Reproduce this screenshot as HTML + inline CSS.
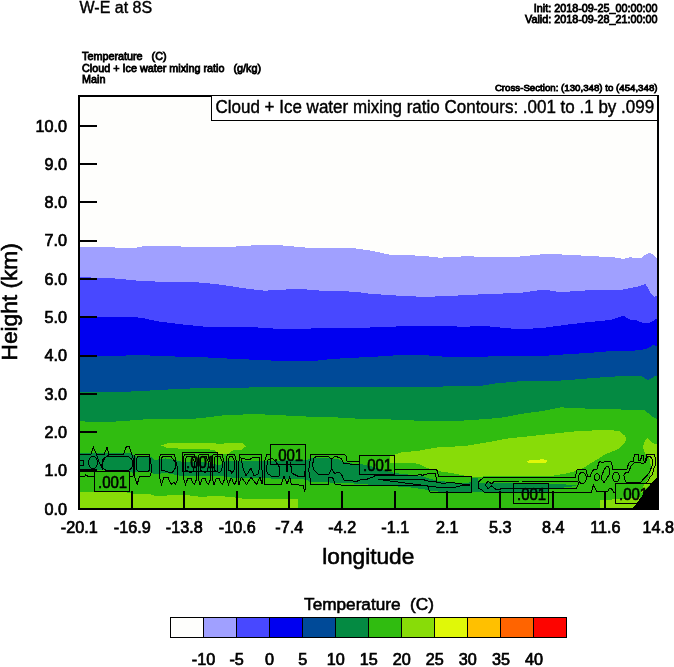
<!DOCTYPE html>
<html lang="en">
<head>
<meta charset="utf-8">
<title>W-E at 8S</title>
<style>
html,body{margin:0;padding:0;background:#fff;}
body{width:674px;height:667px;overflow:hidden;}
svg{display:block;}
text{font-family:"Liberation Sans",sans-serif;fill:#000;}
.sm{font-size:10.8px;stroke:#000;stroke-width:0.8px;}
.tk{font-size:16.2px;stroke:#000;stroke-width:0.7px;}
.ax{font-size:22.7px;stroke:#000;stroke-width:0.6px;}
.lb{font-size:17.2px;stroke:#000;stroke-width:0.6px;}
</style>
</head>
<body>
<svg width="674" height="667" viewBox="0 0 674 667">
<rect width="674" height="667" fill="#fff"/>
<defs><clipPath id="pc"><rect x="78" y="95" width="581" height="415"/></clipPath></defs>
<g clip-path="url(#pc)" shape-rendering="crispEdges">
<rect x="78" y="95" width="581" height="415" fill="#fefefc"/>
<polygon fill="#a0a0ff" points="78,247.1 108,247.3 130.7,248 137,247.6 144,246.2 169,245.7 182,246.6 220,247.1 244.7,246.2 256,245 278.5,245.1 305.5,247.5 337,247.5 355,248.4 370,250.5 392.5,255.2 421.7,255.6 439.7,257.7 464.4,256.3 496,257 520,256.5 547,253.8 558,254.3 583,255.6 614.4,257.4 623.4,258.8 630,257.4 641.4,257.9 645,255 649.3,253 653,254 655,256.5 658,259 658,511 78,511"/>
<polygon fill="#4848ff" points="78,277.2 108,277.9 137.5,280.6 164.4,282 187,281.5 205,283 220,284.6 249,289 265,290.7 287.5,289.4 305.5,289.4 328,291.2 355,291.6 370,293.8 399,295.7 421.7,296.8 444,296.3 471,294.8 500.4,293.6 520,293 538,290.3 549,290.3 558,291.8 574,291.4 587.5,290.3 619,290.3 637,286.7 645.5,284 648,288 650.4,293 653.8,296.8 658,295.2 658,511 78,511"/>
<polygon fill="#0000f0" points="78,317.7 108,317.2 133,316.8 144,318.4 160,321.7 182.4,324.4 205,326.7 220,327.1 256,327.4 287.5,329.4 305.5,329.4 314.4,328 370,327.5 415,325.8 453,326.2 460,326.7 487,326.2 505,328 520,329.2 542.5,328 565,324.9 587.5,322.2 610,320 623.4,315.9 630,319.5 637,320.4 643.7,323.5 649.3,323 658,318 658,511 78,511"/>
<polygon fill="#004a98" points="78,355 115,356 137.5,355 171,356.4 205,357.3 220,358.2 253.7,359.7 287.5,361.3 314.4,360.9 332.4,358.9 355,357.7 370,357 392.5,355.5 426,355.3 446.5,356.8 482.4,356.6 520,356 542.5,356 565,354.4 587.5,353 619,350.5 628,351.4 646,349.2 653.8,344.7 658,347 658,511 78,511"/>
<polygon fill="#048a42" points="78,392.4 121.7,392.4 137.5,390.9 160,390.2 178,388.6 205,388.4 220,388 249,387.5 276,386.6 310,387 332.4,386.8 370,387 392.5,386.6 426,387 460,386 482.4,385.7 496,383.4 520,381.2 547,381.2 565,380.3 587.5,378.5 610,376.7 632.4,375.8 641.4,375.8 648.2,380.3 655,376.2 658,375 658,511 78,511"/>
<polygon fill="#30bc10" points="78,421.2 103.7,422.3 126,420.8 144,419.4 171,419 196,418.5 209.4,417.2 220,415.6 253.7,414 276,415 310,416.7 332.4,417.2 355,418.5 370,419.2 397,419.6 426.2,421.2 460,420.8 487,419 505,417.2 520,414 542.5,411 560.5,407.3 576,408.2 598.7,409 621,409.5 643.7,409.5 652.7,416.7 658,419.4 658,511 78,511"/>
<polygon fill="#048a42" points="78,453 100,453 111,453.4 125,452.6 130,453 134,455.3 136,456.6 151,456.6 154.7,460.2 160,459 165.5,458.4 172,459.5 179,461 185,462.5 202,462 212,464 220,465 225,461 235,460.7 285,460.5 306,460.2 310,458.5 325,458 338.5,459.3 343,461.6 350,463.4 359,463.8 370,466 385,471 396.7,473.3 408.4,474.6 421,476 430,478.7 437.2,480.5 444,481.4 462,483.2 471,482.3 471.7,477.5 478,477.5 478,482.8 495,482.8 548.5,483.7 576,485 576,486 562,487.8 548.5,487.8 548.5,491.8 495,491.8 475.5,492 471,491.7 445,491.7 430,491.3 425.5,489.5 414.7,488 404.8,486.8 385,485.9 368.2,484.5 349.3,483.2 334,483.2 325,481.8 310,482 306,479.6 285,478.7 235,478 220,476 202,476 185,476 179,475.5 165.5,472.8 154.7,474.6 151,471.5 136,471.5 134,473.3 125,469.7 123,469.8 99,470.4 78,469.5"/>
<polygon fill="#88dc08" points="78,492 100,492 125,492.2 136,494 150,494 155,495.8 165,495.8 170,494.9 185,494.9 200,496.8 220,496 235,497.5 245,499 298,499 298,511 78,511"/>
<polygon fill="#88dc08" points="161,445.5 166,443.6 175,442.7 183,443 190,442.5 200,443.5 210,442.7 220,444 228,443 242,443 246,446.4 241,450 234,450 230.4,451.7 228.6,453.5 218,453.5 214,450 205,449 190,449.2 183,449.5 175,448 166,447.5"/>
<polygon fill="#88dc08" points="390,463 390,456 394.4,455.5 395,454.4 403,452 416.5,451.2 428,449 439,447.2 445,446.8 462,446.3 471,445 484.5,442.7 495,441 505,438.8 520,437.2 533.5,435.8 553.7,433.6 576,431.3 598.7,430.2 613,430.4 620.2,431.6 625.4,436.3 626.5,439.4 624.4,443.6 620.2,447.8 613.9,451 605.5,454 599.2,458.3 590.4,463.5 583.2,468 576,471.1 567,473.4 560.7,474.3 553.5,475.6 540,476 495,476.4 484.5,476.4 474.6,477.3 466.5,476 457.5,474.2 445.8,472 440.8,471.5 435.4,469.7 426.4,467.9 421,464.7 414.7,463.2 394,463"/>
<polygon fill="#e0f808" points="526.8,461.5 530,460 540,459.5 543,459 546.7,460.5 547,462 545,463 529,463"/>
<polygon fill="#88dc08" points="647,437.9 644.3,442.6 643,446.8 643.8,451 645.4,454 648,456 650,460 651,468 650,476 646,482 643,487 641,493 646,489 658,476 658,444.7 653.8,443.6 649.6,440.5"/>
<polygon fill="#88dc08" points="600,511 600,499.7 612,499.5 630,498.5 640,497 640,511"/>
<polygon fill="#000" points="631,511 631.8,509 636,504 641.2,497.2 644.3,490.9 650.6,484.6 654.8,479.3 658,476.2 658,511"/>
</g>
<g clip-path="url(#pc)" fill="none" stroke="#000" stroke-width="1" shape-rendering="crispEdges">
<path d="M79,454.5 L90.7,454.5 L93.4,447.2 L96.6,454.5 L104.2,454.5 L107,447.3 L109.2,454.5 L123.6,454.5 L126.3,446.7 L129.4,446.7 L131,451.7 L133.1,458 L133.1,476 L129.6,476.9"/>
<path d="M79,476.9 L84.4,476.9 L85.8,474.6 L88.5,476.9 L94.4,476.9"/>
<path d="M79,460 L83.5,460.5 L84,465 L79,465.5"/>
<path d="M79,469.5 L96.6,469.5" stroke-width="2"/>
<ellipse cx="93" cy="462.7" rx="4.5" ry="6.1"/>
<rect x="102" y="456.6" width="30.6" height="14" rx="6"/>
<path d="M96.6,454.5 L99,462 L101,466 L103,470"/>
<path d="M109.2,454.5 L105,458 L101,466"/>
<path d="M136,454.5 L149.5,454.5 L152,469.7 L149.7,476.9 L139.4,476.9 L137.1,484.5 L134.4,476 L134.9,455 Z"/>
<rect x="136.7" y="456.2" width="13" height="15.3" rx="3"/>
<path d="M161,454.5 L174.5,454.5 L175.8,461.6 L177.2,467 L177.2,480.5 L175.4,484.5 L174,482.3 L171.8,484.5 L170,482.3 L168.2,477.8 L163.7,477.8 L161.4,484.5 L159.6,477.8 L159.6,457 Z"/>
<path d="M163,456.6 L171,456.6 L175,462 L176,467 L174,470 L172,473 L168,472 L164,470.5 L161.5,470 L161.5,458 Z"/>
<path d="M185,454.5 L194,454.5 L196,462 L196,480.5 L194.2,484.5 L192.5,482 L191,478 L188,478 L185.5,484.5 L183.5,478 L183.5,457 Z"/>
<path d="M187,456.5 L192,456.5 L194,461 L194.5,467 L193,471 L191,473 L188.5,471.5 L185.5,470 L185.5,458.5 Z"/>
<path d="M199.5,454.5 L208,454.5 L210,462 L210,480.5 L208.2,484.5 L206.5,482 L205,478 L202.5,478 L200,484.5 L198,478 L198,457 Z"/>
<path d="M201.5,456.5 L206,456.5 L208,461 L208.5,467 L207,471 L205,473 L203,471.5 L200,470 L200,458.5 Z"/>
<path d="M213.5,454.5 L222,454.5 L224,462 L224,480.5 L222.2,484.5 L220.5,482 L219,478 L216.5,478 L214,484.5 L212,478 L212,457 Z"/>
<path d="M215.5,456.5 L220,456.5 L222,461 L222.5,467 L221,471 L219,473 L217,471.5 L214,470 L214,458.5 Z"/>
<path d="M228,454.5 L234.5,454.5 L236.5,462 L236.5,480.5 L234.7,484.5 L233,482 L231.5,478 L231,478 L228.5,484.5 L226.5,478 L226.5,457 Z"/>
<path d="M230,456.5 L232.5,456.5 L234.5,461 L235,467 L233.5,471 L231.5,473 L231.5,471.5 L228.5,470 L228.5,458.5 Z"/>
<path d="M239.8,454.5 L261,454.5 L262,470 L262,484 L260,477 L256.5,484.5 L251,477 L246.6,484.5 L241.2,477 L239,484.5 L238,470 Z"/>
<path d="M241,458 L249,460 L254,457 L259,457 L260,466 L258,474 L254,476 L251,468 L246,476 L243,468 Z"/>
<path d="M270,454.5 L266.8,454.5 L264.5,462 L264,470 L264.6,484.5 L281.3,484.5 L284,476 L287,484 L289.8,476.9 L291.2,484 L296.6,484.5 L303.3,485.9 L304.7,491.7 L305.5,486.8 L306,464.5"/>
<path d="M266,470 L268,460 L272,458 L276,462 L280,468 L279,476 L273,477 L268,474 Z"/>
<path d="M290.3,461.6 L292,473.3 L297.5,476 L304.7,476 L305.5,464.5"/>
<path d="M286.7,461 L286.7,471.5" stroke-width="2"/>
<path d="M359.5,461.6 L348,461.6 L346.6,460.7 L346.6,456.2 L343.9,454.5 L311,454.5 L308.7,469.7 L311,484.5 L328.1,484.5 L329,477.3 L332.6,477.3 L334.9,484 L340.7,484.5 L341.6,485.4 L427.3,485.4 L428.6,488.6 L430,492.2 L471.8,492.2 L471.4,476.9 L438.5,476.9 L437.6,471 L435.8,469.2 L394.4,469.2"/>
<path d="M314,458 L312.5,465 L314,470 L318,474 L322,475 L328.6,474.6 L331.7,468.8 L331.7,464.3 L331.3,459.3 L328.6,456.6 L316,456.6 Z"/>
<path d="M331.3,459.3 L335.3,456.2 L341.2,458.4 L343.9,463.8 L359.5,464.3"/>
<path d="M331.7,468.8 L334.4,473.3 L339.4,472.4 L341.6,474.6 L343.9,480 L352.9,481 L356.5,481.4 L361,479.6 L364.6,480 L373.6,476.9 L375,475.5 L414.7,475.5 L421,474.6 L421.9,475.5 L428.2,473.5 L435,473.5 L436.3,477.8 L436.8,482.3"/>
<path d="M378,479.4 L419.2,479.4 L421,479.1 L428.2,481 L430,481.8 L435,481.8 L436.8,482.3 L444,483.6 L448.5,482.3 L454.8,483 L462,484 L469.6,484.5 L462,485.4 L455.7,487.2 L437.2,487.2 Z"/>
<path d="M462,484.5 L469.6,484.5" stroke-width="2"/>
<path d="M615,492.4 L613.9,492.4 L611.3,488.2 L609.2,488.2 L607.6,491.9 L596.7,491.8 L593.5,485 L591.3,492.2 L484,492.2 L481.8,490 L479,488.6 L478.2,485 L479,481.4 L482.2,478.7 L484,477 L575.5,477 L576.4,471.6 L577.3,469.3 L585.9,469.3 L587.7,476.5 L590,476.5 L592.2,471.6 L594,469.3 L597,469.3 L598.7,463 L600.2,461.5 L602.9,463 L605,461.5 L610.7,461.5 L611.8,463.6 L612.8,469 L627,469 L628.6,463.6 L630.7,461.5 L633.3,461.5 L634.3,454.7 L638.5,454.7 L639,460.4 L640.6,460.4 L641.7,455.2 L643.3,455.2 L643.8,460.4 L645.4,462.5 L646.4,454.7 L654.8,454.7 L655.9,464.6 L654.3,466.7 L652.2,475.1 L649.6,477.2 L648,481.4 L645.4,483.5"/>
<path d="M485.4,485 L488,481 L491.7,484 L494,481.5 L518.7,481.5 M521.9,481.5 L577.8,481.5"/>
<path d="M485.4,485 L488,488.6 L491.7,485.9 L496.2,489.6 L500.7,489.6 L500.7,488.5 L576,488.5 L577.8,486 L578.7,482"/>
<ellipse cx="582.3" cy="477.9" rx="4" ry="5.6"/>
<ellipse cx="596.9" cy="477.1" rx="2.5" ry="3.3"/>
<path d="M601.8,476 L603.5,471 L606,466.7 L608.5,466.5 L610,470 L609,475 L606,480 L604,482.5 L602,480 Z"/>
<ellipse cx="616" cy="477.2" rx="3.3" ry="4.8"/>
<path d="M623.9,475.1 L625.4,473 L628.6,472 L630.7,466.7 L633.8,463 L639,462 L642.2,463.6 L645.4,462.5 L647.5,456.2 L650.6,456.8 L652.7,460.4 L652.2,465.7 L649.6,472 L646.4,476.2 L643.3,479.3 L641.2,482 L626.5,482.5 L624.4,479.3 Z"/>
<rect x="94.5" y="471.5" width="35" height="20"/>
<rect x="182.5" y="452.5" width="35" height="19"/>
<rect x="270.5" y="444.5" width="35" height="20"/>
<rect x="359.5" y="455.5" width="35" height="19"/>
<rect x="513.5" y="483.5" width="35" height="20"/>
<rect x="615.5" y="483.5" width="35" height="20"/>
</g>
<g clip-path="url(#pc)">
<text class="lb" x="98" y="488" textLength="29.2" lengthAdjust="spacingAndGlyphs">.001</text>
<text class="lb" x="186" y="468" textLength="29.2" lengthAdjust="spacingAndGlyphs">.001</text>
<text class="lb" x="274" y="461" textLength="29.2" lengthAdjust="spacingAndGlyphs">.001</text>
<text class="lb" x="363" y="471" textLength="29.2" lengthAdjust="spacingAndGlyphs">.001</text>
<text class="lb" x="517" y="500" textLength="29.2" lengthAdjust="spacingAndGlyphs">.001</text>
<text class="lb" x="619" y="500" textLength="29.2" lengthAdjust="spacingAndGlyphs">.001</text>
</g>
<g shape-rendering="crispEdges">
<rect x="79" y="470" width="18" height="2"/>
<rect x="79" y="431" width="18" height="2"/>
<rect x="79" y="393" width="18" height="2"/>
<rect x="79" y="355" width="18" height="2"/>
<rect x="79" y="316" width="18" height="2"/>
<rect x="79" y="278" width="18" height="2"/>
<rect x="79" y="240" width="18" height="2"/>
<rect x="79" y="201" width="18" height="2"/>
<rect x="79" y="163" width="18" height="2"/>
<rect x="79" y="125" width="18" height="2"/>
<rect x="131" y="491" width="2" height="18"/>
<rect x="183" y="491" width="2" height="18"/>
<rect x="236" y="491" width="2" height="18"/>
<rect x="288" y="491" width="2" height="18"/>
<rect x="341" y="491" width="2" height="18"/>
<rect x="394" y="491" width="2" height="18"/>
<rect x="446" y="491" width="2" height="18"/>
<rect x="499" y="491" width="2" height="18"/>
<rect x="552" y="491" width="2" height="18"/>
<rect x="604" y="491" width="2" height="18"/>
<rect x="79" y="96" width="579" height="413" fill="none" stroke="#000" stroke-width="2"/>
<rect x="211.5" y="95.5" width="446" height="25" fill="#fff" stroke="#000" stroke-width="1"/>
</g>
<text x="79.5" y="13" style="font-size:16px;stroke:#000;stroke-width:0.4px">W-E at 8S</text>
<text class="sm" x="657.5" y="12" text-anchor="end">Init: 2018-09-25_00:00:00</text>
<text class="sm" x="657.5" y="23.2" text-anchor="end">Valid: 2018-09-28_21:00:00</text>
<text class="sm" x="82" y="60" xml:space="preserve">Temperature   (C)</text>
<text class="sm" x="82" y="71.5" xml:space="preserve">Cloud + Ice water mixing ratio   (g/kg)</text>
<text class="sm" x="82" y="83.4">Main</text>
<text class="sm" x="657.5" y="91.2" text-anchor="end" style="font-size:9.7px">Cross-Section: (130,348) to (454,348)</text>
<text transform="translate(434.8,113) scale(1,1.07)" text-anchor="middle" style="font-size:17px;stroke:#000;stroke-width:0.4px">Cloud + Ice water mixing ratio Contours: .001 to .1 by .099</text>
<text class="tk" x="67" y="514.5" text-anchor="end">0.0</text>
<text class="tk" x="67" y="476.2" text-anchor="end">1.0</text>
<text class="tk" x="67" y="437.9" text-anchor="end">2.0</text>
<text class="tk" x="67" y="399.6" text-anchor="end">3.0</text>
<text class="tk" x="67" y="361.3" text-anchor="end">4.0</text>
<text class="tk" x="67" y="323" text-anchor="end">5.0</text>
<text class="tk" x="67" y="284.7" text-anchor="end">6.0</text>
<text class="tk" x="67" y="246.4" text-anchor="end">7.0</text>
<text class="tk" x="67" y="208.1" text-anchor="end">8.0</text>
<text class="tk" x="67" y="169.8" text-anchor="end">9.0</text>
<text class="tk" x="67" y="131.5" text-anchor="end">10.0</text>
<text class="tk" x="79.3" y="533" text-anchor="middle">-20.1</text>
<text class="tk" x="132.3" y="533" text-anchor="middle">-16.9</text>
<text class="tk" x="184.3" y="533" text-anchor="middle">-13.8</text>
<text class="tk" x="237.3" y="533" text-anchor="middle">-10.6</text>
<text class="tk" x="289.3" y="533" text-anchor="middle">-7.4</text>
<text class="tk" x="342.3" y="533" text-anchor="middle">-4.2</text>
<text class="tk" x="395.3" y="533" text-anchor="middle">-1.1</text>
<text class="tk" x="447.3" y="533" text-anchor="middle">2.1</text>
<text class="tk" x="500.3" y="533" text-anchor="middle">5.3</text>
<text class="tk" x="553.3" y="533" text-anchor="middle">8.4</text>
<text class="tk" x="605.3" y="533" text-anchor="middle">11.6</text>
<text class="tk" x="658.3" y="533" text-anchor="middle">14.8</text>
<text class="ax" x="368.3" y="564" text-anchor="middle">longitude</text>
<text class="ax" transform="translate(17.4,301.8) rotate(-90)" text-anchor="middle">Height (km)</text>
<text x="369" y="610.2" text-anchor="middle" xml:space="preserve" style="font-size:17.2px;stroke:#000;stroke-width:0.6px">Temperature  (C)</text>
<g shape-rendering="crispEdges" stroke="#000" stroke-width="1">
<rect x="170.5" y="617.5" width="33" height="20" fill="#fefefc"/>
<rect x="203.5" y="617.5" width="33" height="20" fill="#a0a0ff"/>
<rect x="236.5" y="617.5" width="33" height="20" fill="#4848ff"/>
<rect x="269.5" y="617.5" width="33" height="20" fill="#0000f0"/>
<rect x="302.5" y="617.5" width="33" height="20" fill="#004a98"/>
<rect x="335.5" y="617.5" width="33" height="20" fill="#048a42"/>
<rect x="368.5" y="617.5" width="33" height="20" fill="#30bc10"/>
<rect x="401.5" y="617.5" width="33" height="20" fill="#88dc08"/>
<rect x="434.5" y="617.5" width="33" height="20" fill="#e0f808"/>
<rect x="467.5" y="617.5" width="33" height="20" fill="#ffc000"/>
<rect x="500.5" y="617.5" width="33" height="20" fill="#ff6400"/>
<rect x="533.5" y="617.5" width="33" height="20" fill="#fd0400"/>
</g>
<text class="tk" x="203.542" y="665" text-anchor="middle">-10</text>
<text class="tk" x="236.583" y="665" text-anchor="middle">-5</text>
<text class="tk" x="269.625" y="665" text-anchor="middle">0</text>
<text class="tk" x="302.667" y="665" text-anchor="middle">5</text>
<text class="tk" x="335.708" y="665" text-anchor="middle">10</text>
<text class="tk" x="368.75" y="665" text-anchor="middle">15</text>
<text class="tk" x="401.792" y="665" text-anchor="middle">20</text>
<text class="tk" x="434.833" y="665" text-anchor="middle">25</text>
<text class="tk" x="467.875" y="665" text-anchor="middle">30</text>
<text class="tk" x="500.917" y="665" text-anchor="middle">35</text>
<text class="tk" x="533.958" y="665" text-anchor="middle">40</text>
</svg>
</body>
</html>
